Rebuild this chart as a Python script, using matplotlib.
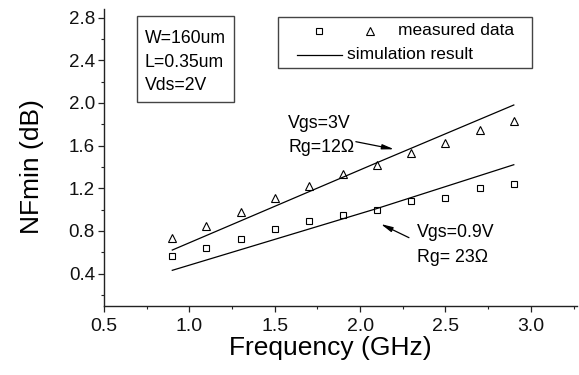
import matplotlib
matplotlib.use("Agg")
import matplotlib.pyplot as plt
from matplotlib.ticker import MultipleLocator
from matplotlib.lines import Line2D
from matplotlib.patches import Rectangle

plt.rcParams['font.family'] = ['Liberation Sans', 'DejaVu Sans']

freq = [0.9, 1.1, 1.3, 1.5, 1.7, 1.9, 2.1, 2.3, 2.5, 2.7, 2.9]
meas_vgs3 = [0.73, 0.85, 0.98, 1.11, 1.22, 1.33, 1.42, 1.53, 1.62, 1.75, 1.83]
meas_vgs09 = [0.56, 0.64, 0.72, 0.82, 0.89, 0.95, 1.00, 1.08, 1.11, 1.20, 1.24]
sim_freq = [0.9, 1.5, 2.1, 2.9]
sim_vgs3 = [0.62, 1.03, 1.44, 1.98]
sim_vgs09 = [0.43, 0.72, 1.01, 1.42]

fig = plt.figure(figsize=(5.79, 3.75), dpi=100)
ax = fig.add_axes([0.1796, 0.1853, 0.8169, 0.7907])

ax.plot(sim_freq, sim_vgs3, color='black', lw=0.9)
ax.plot(sim_freq, sim_vgs09, color='black', lw=0.9)
ax.plot(freq, meas_vgs3, linestyle='none', marker='^', ms=6.3, mfc='none', mec='black', mew=0.8)
ax.plot(freq, meas_vgs09, linestyle='none', marker='s', ms=5, mfc='none', mec='black', mew=0.8)

ax.set_xlim(0.5, 3.27)
ax.set_ylim(0.1, 2.88)
ax.xaxis.set_minor_locator(MultipleLocator(0.25))
ax.yaxis.set_minor_locator(MultipleLocator(0.2))
ax.set_xticks([0.5, 1.0, 1.5, 2.0, 2.5, 3.0])
ax.set_xticklabels(['0.5', '1.0', '1.5', '2.0', '2.5', '3.0'])
ax.set_yticks([0.4, 0.8, 1.2, 1.6, 2.0, 2.4, 2.8])
ax.set_yticklabels(['0.4', '0.8', '1.2', '1.6', '2.0', '2.4', '2.8'])

for s in ['top', 'right']:
    ax.spines[s].set_visible(False)
for s in ['left', 'bottom']:
    ax.spines[s].set_linewidth(1.0)
    ax.spines[s].set_color('#222222')
ax.tick_params(which='major', direction='out', length=4.5, width=0.9, colors='#222222')
ax.tick_params(which='minor', direction='out', length=2.5, width=0.8, colors='#222222')
ax.tick_params(axis='x', labelsize=14, pad=4.5, labelcolor='#111111')
ax.tick_params(axis='y', labelsize=13.5, pad=2, labelcolor='#111111')

ax.set_xlabel('Frequency (GHz)', fontsize=19)
ax.set_ylabel('NFmin (dB)', fontsize=19)
ax.xaxis.set_label_coords(0.478, -0.103)
ax.yaxis.set_label_coords(-0.127, 0.467)

# parameter box
ax.add_patch(Rectangle((0.0698, 0.686), 0.205, 0.29, transform=ax.transAxes,
                       fill=False, edgecolor='#444444', lw=1.0))
for txt, fy in [('W=160um', 0.886), ('L=0.35um', 0.805), ('Vds=2V', 0.727)]:
    ax.text(0.0867, fy, txt, transform=ax.transAxes, fontsize=12.7, va='baseline', ha='left')

# legend
ax.add_patch(Rectangle((0.368, 0.801), 0.537, 0.172, transform=ax.transAxes,
                       fill=False, edgecolor='#444444', lw=1.0))
ax.add_line(Line2D([0.4545], [0.926], transform=ax.transAxes, marker='s', ms=5,
                   mfc='none', mec='black', mew=0.8, linestyle='none'))
ax.add_line(Line2D([0.562], [0.926], transform=ax.transAxes, marker='^', ms=6.3,
                   mfc='none', mec='black', mew=0.8, linestyle='none'))
ax.text(0.6216, 0.926, 'measured data', transform=ax.transAxes, fontsize=12.5, va='center', ha='left')
ax.add_line(Line2D([0.408, 0.503], [0.845, 0.845], transform=ax.transAxes, color='black', lw=0.9))
ax.text(0.514, 0.845, 'simulation result', transform=ax.transAxes, fontsize=12.5, va='center', ha='left')

# annotations
ax.text(1.58, 1.764, 'Vgs=3V', fontsize=12.8, va='baseline', ha='left')
ax.text(1.58, 1.539, 'Rg=12\u03a9', fontsize=12.8, va='baseline', ha='left')
ax.text(2.333, 0.742, 'Vgs=0.9V', fontsize=12.8, va='baseline', ha='left')
ax.text(2.333, 0.508, 'Rg= 23\u03a9', fontsize=12.8, va='baseline', ha='left')
arrow = dict(arrowstyle='-|>,head_length=0.7,head_width=0.15', color='black', lw=0.9,
             shrinkA=0, shrinkB=0)
ax.annotate('', xy=(2.199, 1.565), xytext=(1.975, 1.636), arrowprops=arrow)
ax.annotate('', xy=(2.121, 0.864), xytext=(2.286, 0.736), arrowprops=arrow)

fig.savefig('out.png', dpi=100)
